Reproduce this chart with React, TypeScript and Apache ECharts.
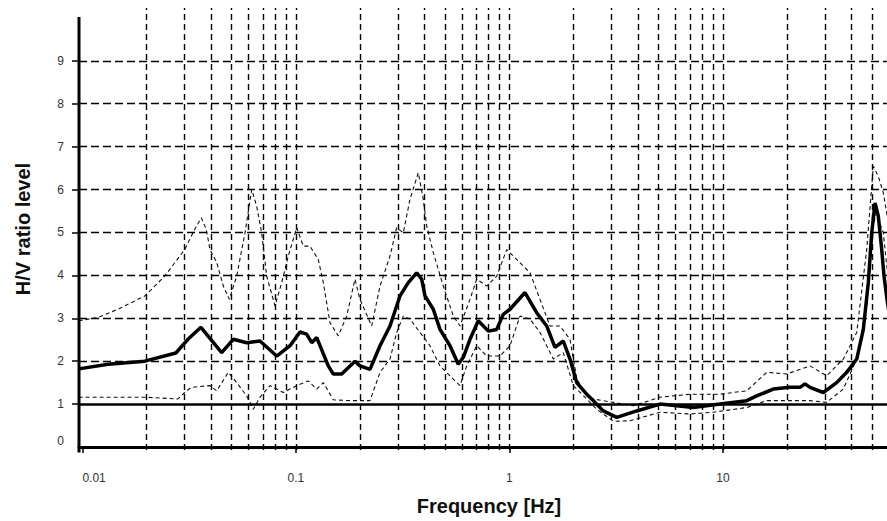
import React, { useEffect, useRef } from "react";
import * as echarts from "echarts";

// Frequency (Hz) and H/V ratio values
const meanFreq = [0.0096, 0.0132, 0.0196, 0.0274, 0.0312, 0.0359, 0.0449, 0.0509, 0.0588, 0.0679, 0.0813, 0.0939, 0.1045, 0.1123, 0.1186, 0.1252, 0.1418, 0.1497, 0.1639, 0.1891, 0.1996, 0.2224, 0.2477, 0.2759, 0.3073, 0.3361, 0.3679, 0.3882, 0.4024, 0.44, 0.473, 0.527, 0.5763, 0.6083, 0.6538, 0.7149, 0.7967, 0.872, 0.9363, 1.0065, 1.183, 1.342, 1.495, 1.635, 1.788, 1.922, 2.067, 2.301, 2.517, 2.753, 3.182, 3.947, 5.076, 7.269, 9.692, 12.93, 14.4, 17.22, 20.62, 22.97, 24.24, 25.59, 29.53, 34.12, 38.01, 42.35, 45.47, 47.98, 49.77, 51.58, 53.45, 55.45, 56.85, 58.7, 60.6];
const meanHV = [1.82, 1.93, 2.0, 2.19, 2.51, 2.79, 2.2, 2.51, 2.43, 2.47, 2.12, 2.36, 2.68, 2.63, 2.43, 2.55, 1.89, 1.7, 1.7, 2.0, 1.89, 1.81, 2.36, 2.82, 3.52, 3.83, 4.06, 3.91, 3.52, 3.21, 2.74, 2.36, 1.93, 2.09, 2.51, 2.94, 2.7, 2.74, 3.09, 3.21, 3.6, 3.13, 2.82, 2.32, 2.47, 2.05, 1.5, 1.23, 1.04, 0.84, 0.69, 0.84, 1.0, 0.92, 1.0, 1.08, 1.19, 1.35, 1.39, 1.39, 1.47, 1.39, 1.27, 1.5, 1.74, 2.05, 2.74, 3.83, 4.99, 5.69, 5.38, 4.6, 3.98, 3.44, 3.0];

const upperFreq = [0.0096, 0.01183, 0.01468, 0.0196, 0.02429, 0.03013, 0.03357, 0.03605, 0.03804, 0.03961, 0.04256, 0.04571, 0.04875, 0.05281, 0.05775, 0.06209, 0.06553, 0.06916, 0.07299, 0.07982, 0.0858, 0.09213, 0.1009, 0.1083, 0.1164, 0.1273, 0.1344, 0.1444, 0.1579, 0.1729, 0.1891, 0.1996, 0.2265, 0.2477, 0.2759, 0.2965, 0.3184, 0.3422, 0.3743, 0.3951, 0.41, 0.44, 0.4902, 0.5461, 0.5871, 0.6538, 0.7028, 0.7826, 0.872, 0.9714, 1.082, 1.249, 1.391, 1.549, 1.726, 1.922, 2.067, 2.197, 2.447, 3.067, 3.804, 5.076, 7.014, 9.692, 12.93, 16.04, 19.9, 25.59, 30.63, 36.64, 42.35, 47.16, 50.64, 53.45, 56.42, 60.6];
const upperHV = [2.94, 3.02, 3.21, 3.52, 3.98, 4.6, 5.07, 5.34, 5.07, 4.6, 4.3, 3.75, 3.44, 3.98, 4.99, 6.0, 5.61, 4.99, 3.98, 3.29, 3.83, 4.45, 5.11, 4.68, 4.68, 4.37, 3.83, 2.9, 2.59, 3.05, 3.91, 3.44, 2.82, 3.75, 4.45, 5.11, 4.99, 5.77, 6.39, 5.77, 5.15, 4.53, 3.75, 3.05, 2.82, 3.44, 3.91, 3.75, 3.98, 4.6, 4.37, 4.06, 3.44, 2.82, 2.82, 2.51, 1.6, 1.35, 1.12, 1.04, 0.96, 1.16, 1.23, 1.23, 1.31, 1.74, 1.7, 1.89, 1.66, 2.05, 2.67, 4.6, 6.54, 6.31, 5.92, 5.0];

const lowerFreq = [0.0096, 0.0196, 0.02804, 0.03013, 0.03237, 0.03961, 0.04256, 0.04824, 0.05281, 0.05884, 0.06317, 0.06789, 0.07562, 0.0873, 0.1009, 0.1143, 0.1252, 0.1344, 0.1497, 0.1795, 0.2224, 0.2477, 0.2759, 0.2965, 0.3184, 0.3422, 0.3813, 0.4247, 0.473, 0.5461, 0.5871, 0.631, 0.7028, 0.7826, 0.9038, 1.0065, 1.121, 1.249, 1.391, 1.606, 1.788, 1.992, 2.301, 2.564, 3.067, 3.672, 5.076, 7.014, 9.016, 12.93, 16.04, 19.9, 25.59, 30.63, 36.64, 42.35, 47.16, 50.64, 52.24, 56.42, 60.6];
const lowerHV = [1.16, 1.16, 1.12, 1.27, 1.39, 1.43, 1.31, 1.74, 1.5, 1.19, 0.88, 1.16, 1.43, 1.27, 1.43, 1.54, 1.35, 1.5, 1.1, 1.08, 1.08, 1.74, 2.05, 2.67, 3.05, 2.98, 2.67, 2.36, 1.89, 1.58, 1.43, 1.89, 2.36, 2.12, 2.12, 2.36, 3.05, 2.98, 2.67, 2.05, 2.2, 1.43, 1.12, 0.88, 0.6, 0.61, 0.81, 0.77, 0.81, 0.92, 1.08, 1.08, 1.08, 1.04, 1.35, 2.05, 3.29, 5.15, 5.45, 4.99, 3.5];

// Axis labels and grid positions
const xTickLabels = [0.01, 0.1, 1, 10];
const yTickLabels = [0, 1, 2, 3, 4, 5, 6, 7, 8, 9];
const yTicks = [1, 2, 3, 4, 5, 6, 7, 8, 9];
const verticalGrid = [0.02, 0.03, 0.04, 0.05, 0.06, 0.07, 0.08, 0.09, 0.1, 0.2, 0.3, 0.4, 0.5, 0.6, 0.7, 0.8, 0.9, 1, 2, 3, 4, 5, 6, 7, 8, 9, 10, 20, 30, 40, 50];
const horizontalGrid = [2, 3, 4, 5, 6, 7, 8, 9];
const referenceLevel = 1;

const zip = (xs: number[], ys: number[]) => xs.map((x, i) => [x, ys[i]]);

const FONT = "'Liberation Sans', Arial, sans-serif";

export default function App() {
  const ref = useRef<HTMLDivElement>(null);

  useEffect(() => {
    if (!ref.current) return;
    const chart = echarts.init(ref.current, undefined, { renderer: "svg" });
    const gridDash = { color: "#000", width: 1.4 };
    chart.setOption({
      animation: false,
      backgroundColor: "#ffffff",
      grid: { left: 79, right: 0, top: 8, bottom: 70, containLabel: false },
      xAxis: {
        type: "log",
        logBase: 10,
        min: 0.00964,
        max: 58.7,
        name: "Frequency [Hz]",
        nameLocation: "middle",
        nameGap: 46,
        nameTextStyle: {
          fontFamily: FONT,
          fontWeight: "bold",
          fontSize: 20,
          color: "#111",
          padding: [0, 0, 0, 12],
        },
        axisLine: { show: true, lineStyle: { color: "#000", width: 3 } },
        axisTick: {
          show: true,
          customValues: xTickLabels,
          length: 6,
          lineStyle: { color: "#000", width: 1.5 },
        },
        axisLabel: {
          customValues: xTickLabels,
          margin: 22,
          fontFamily: FONT,
          fontSize: 12,
          color: "#333",
          alignMinLabel: "left",
          formatter: (v: number) => String(v),
        },
        splitLine: { show: false },
        minorTick: { show: false },
        minorSplitLine: { show: false },
      },
      yAxis: {
        type: "value",
        min: -0.07,
        max: 10.23,
        name: "H/V ratio level",
        nameLocation: "middle",
        nameGap: 46,
        nameRotate: 90,
        nameTextStyle: {
          fontFamily: FONT,
          fontWeight: "bold",
          fontSize: 20,
          color: "#111",
        },
        axisLine: { show: false },
        axisTick: {
          show: true,
          customValues: yTicks,
          length: 7,
          lineStyle: { color: "#000", width: 1.5 },
        },
        axisLabel: {
          customValues: yTickLabels,
          margin: 15,
          fontFamily: FONT,
          fontSize: 12,
          color: "#333",
          formatter: (v: number) => (v === 0 ? "{z|0}" : String(v)),
          rich: { z: { padding: [0, 0, 12, 0], fontFamily: FONT, fontSize: 12, color: "#333" } },
        },
        splitLine: { show: false },
      },
      graphic: [
        {
          type: "line",
          shape: { x1: 79, y1: 17, x2: 79, y2: 452.5 },
          style: { stroke: "#000", lineWidth: 3 },
          z: 10,
        },
      ],
      series: [
        {
          name: "grid",
          type: "line",
          data: [],
          silent: true,
          z: 1,
          markLine: {
            silent: true,
            symbol: ["none", "none"],
            label: { show: false },
            animation: false,
            data: [
              ...verticalGrid.map((v) => ({
                xAxis: v,
                lineStyle: { ...gridDash, type: [6, 4] },
              })),
              ...horizontalGrid.map((v) => ({
                yAxis: v,
                lineStyle: { ...gridDash, type: [8, 4] },
              })),
              {
                yAxis: referenceLevel,
                lineStyle: { color: "#000", width: 2.5, type: "solid" },
              },
            ],
          },
        },
        {
          name: "upper",
          type: "line",
          data: zip(upperFreq, upperHV),
          showSymbol: false,
          symbol: "none",
          z: 2,
          lineStyle: { color: "#111", width: 1.1, type: [4, 3] },
        },
        {
          name: "lower",
          type: "line",
          data: zip(lowerFreq, lowerHV),
          showSymbol: false,
          symbol: "none",
          z: 2,
          lineStyle: { color: "#111", width: 1.1, type: [4, 3] },
        },
        {
          name: "mean",
          type: "line",
          data: zip(meanFreq, meanHV),
          showSymbol: false,
          symbol: "none",
          z: 3,
          lineStyle: { color: "#000", width: 3.5 },
        },
      ],
    });
    return () => chart.dispose();
  }, []);

  return (
    <div
      ref={ref}
      style={{ position: "absolute", left: 0, top: 0, width: 887, height: 521, background: "#fff" }}
    />
  );
}
